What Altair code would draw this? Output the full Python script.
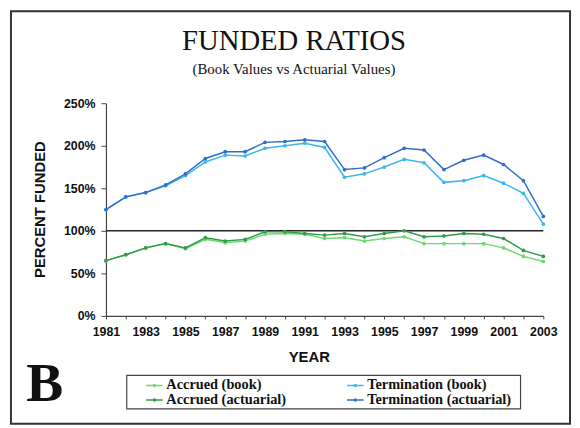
import altair as alt
import pandas as pd

years = list(range(1981, 2004))
term_actuarial = [125, 140, 145, 154, 167, 185, 193, 193, 204, 205, 207, 205, 172, 174, 186, 197, 195, 172, 183, 189, 178, 159, 117]
term_book = [125, 140, 145, 153, 165, 181, 189, 188, 197, 200, 203, 198, 163, 167, 175, 184, 180, 157, 159, 165, 156, 144, 108]
accr_actuarial = [65, 72, 80, 85, 80, 92, 88, 90, 99, 99, 97, 95, 97, 93, 97, 100, 93, 94, 97, 96, 91, 77, 70]
accr_book = [65, 72, 80, 85, 79, 90, 86, 88, 96, 97, 96, 91, 92, 88, 91, 93, 85, 85, 85, 85, 80, 70, 64]

series_names = ["Accrued (book)", "Accrued (actuarial)", "Termination (book)", "Termination (actuarial)"]
series_colors = ["#72d672", "#2f9d48", "#3cb6ef", "#2f6ecb"]
series_values = {
    "Accrued (book)": accr_book,
    "Termination (book)": term_book,
    "Accrued (actuarial)": accr_actuarial,
    "Termination (actuarial)": term_actuarial,
}

rows = []
for name in series_names:
    for yr, v in zip(years, series_values[name]):
        rows.append({"year": yr, "value": v, "series": name})
df = pd.DataFrame(rows)

W, H = 442, 215
one = pd.DataFrame({"k": [0]})

x_enc = alt.X(
    "year:Q",
    scale=alt.Scale(domain=[1981, 2003], nice=False, zero=False),
    axis=alt.Axis(
        title="YEAR",
        values=years,
        format="d",
        labelExpr="datum.value % 2 == 1 ? datum.label : ''",
        labelOverlap=False,
        labelFlush=False,
        grid=False,
        tickSize=3,
        labelPadding=7,
        titleX=205,
        titleY=46,
        titleBaseline="alphabetic",
    ),
)
y_enc = alt.Y(
    "value:Q",
    scale=alt.Scale(domain=[0, 250], nice=False),
    axis=alt.Axis(
        title="PERCENT FUNDED",
        values=[0, 50, 100, 150, 200, 250],
        labelExpr="datum.value + '%'",
        grid=False,
        tickSize=5,
        labelPadding=6,
        titleX=-67,
        titleY=107,
        titleAngle=270,
        titleAlign="center",
        titleBaseline="middle",
    ),
)

lines = alt.Chart(df).mark_line(
    strokeWidth=1.5,
    point=alt.OverlayMarkDef(filled=True, size=14),
).encode(
    x=x_enc,
    y=y_enc,
    color=alt.Color(
        "series:N",
        scale=alt.Scale(domain=series_names, range=series_colors),
        legend=alt.Legend(
            title=None,
            orient="none",
            legendX=41,
            legendY=277,
            columns=2,
            columnPadding=57,
            rowPadding=0,
            padding=0,
            labelOffset=4,
            labelLimit=300,
            labelFont="Liberation Serif",
            labelFontSize=14.5,
            labelFontWeight="bold",
            labelColor="#111",
            symbolType="M-1.2,0L1.2,0M-0.15,0A0.15,0.15,0,1,0,0.15,0A0.15,0.15,0,1,0,-0.15,0",
            symbolSize=196,
            symbolStrokeWidth=1.5,
        ),
    ),
    order="year:Q",
)

ref = alt.Chart(pd.DataFrame({"value": [100]})).mark_rule(color="#222", strokeWidth=1.5).encode(
    y=alt.Y("value:Q")
)

frame = alt.Chart(one).mark_rect(fill=None, stroke="#333", strokeWidth=2).encode(
    x=alt.value(-96), x2=alt.value(469), y=alt.value(-93), y2=alt.value(324)
)
legend_box = alt.Chart(one).mark_rect(fill=None, stroke="#444", strokeWidth=1.2).encode(
    x=alt.value(21), x2=alt.value(419), y=alt.value(275), y2=alt.value(309)
)

title = alt.Chart(pd.DataFrame({"t": ["FUNDED RATIOS"]})).mark_text(
    font="Liberation Serif", fontSize=29, color="#111", align="center", baseline="alphabetic"
).encode(text="t:N", x=alt.value(190), y=alt.value(-54))

subtitle = alt.Chart(pd.DataFrame({"t": ["(Book Values vs Actuarial Values)"]})).mark_text(
    font="Liberation Serif", fontSize=15, color="#111", align="center", baseline="alphabetic"
).encode(text="t:N", x=alt.value(190), y=alt.value(-30))

letter = alt.Chart(pd.DataFrame({"t": ["B"]})).mark_text(
    font="Liberation Serif", fontSize=56, fontWeight="bold", color="#111", align="center", baseline="alphabetic"
).encode(text="t:N", x=alt.value(-62), y=alt.value(301))

chart = alt.layer(frame, legend_box, ref, lines, title, subtitle, letter).properties(
    width=W,
    height=H,
    padding={"left": 99, "top": 94, "right": 29, "bottom": 111},
    autosize=alt.AutoSizeParams(type="none"),
    background="white",
).configure_view(stroke=None).configure_axis(
    domainColor="#444",
    domainWidth=1.2,
    tickColor="#444",
    labelFont="Liberation Sans",
    labelFontSize=12.5,
    labelFontWeight="bold",
    labelColor="#111",
    titleFont="Liberation Sans",
    titleFontSize=15,
    titleFontWeight="bold",
    titleColor="#111",
)

chart.save("out.html", embed_options={"renderer": "svg", "actions": False})
